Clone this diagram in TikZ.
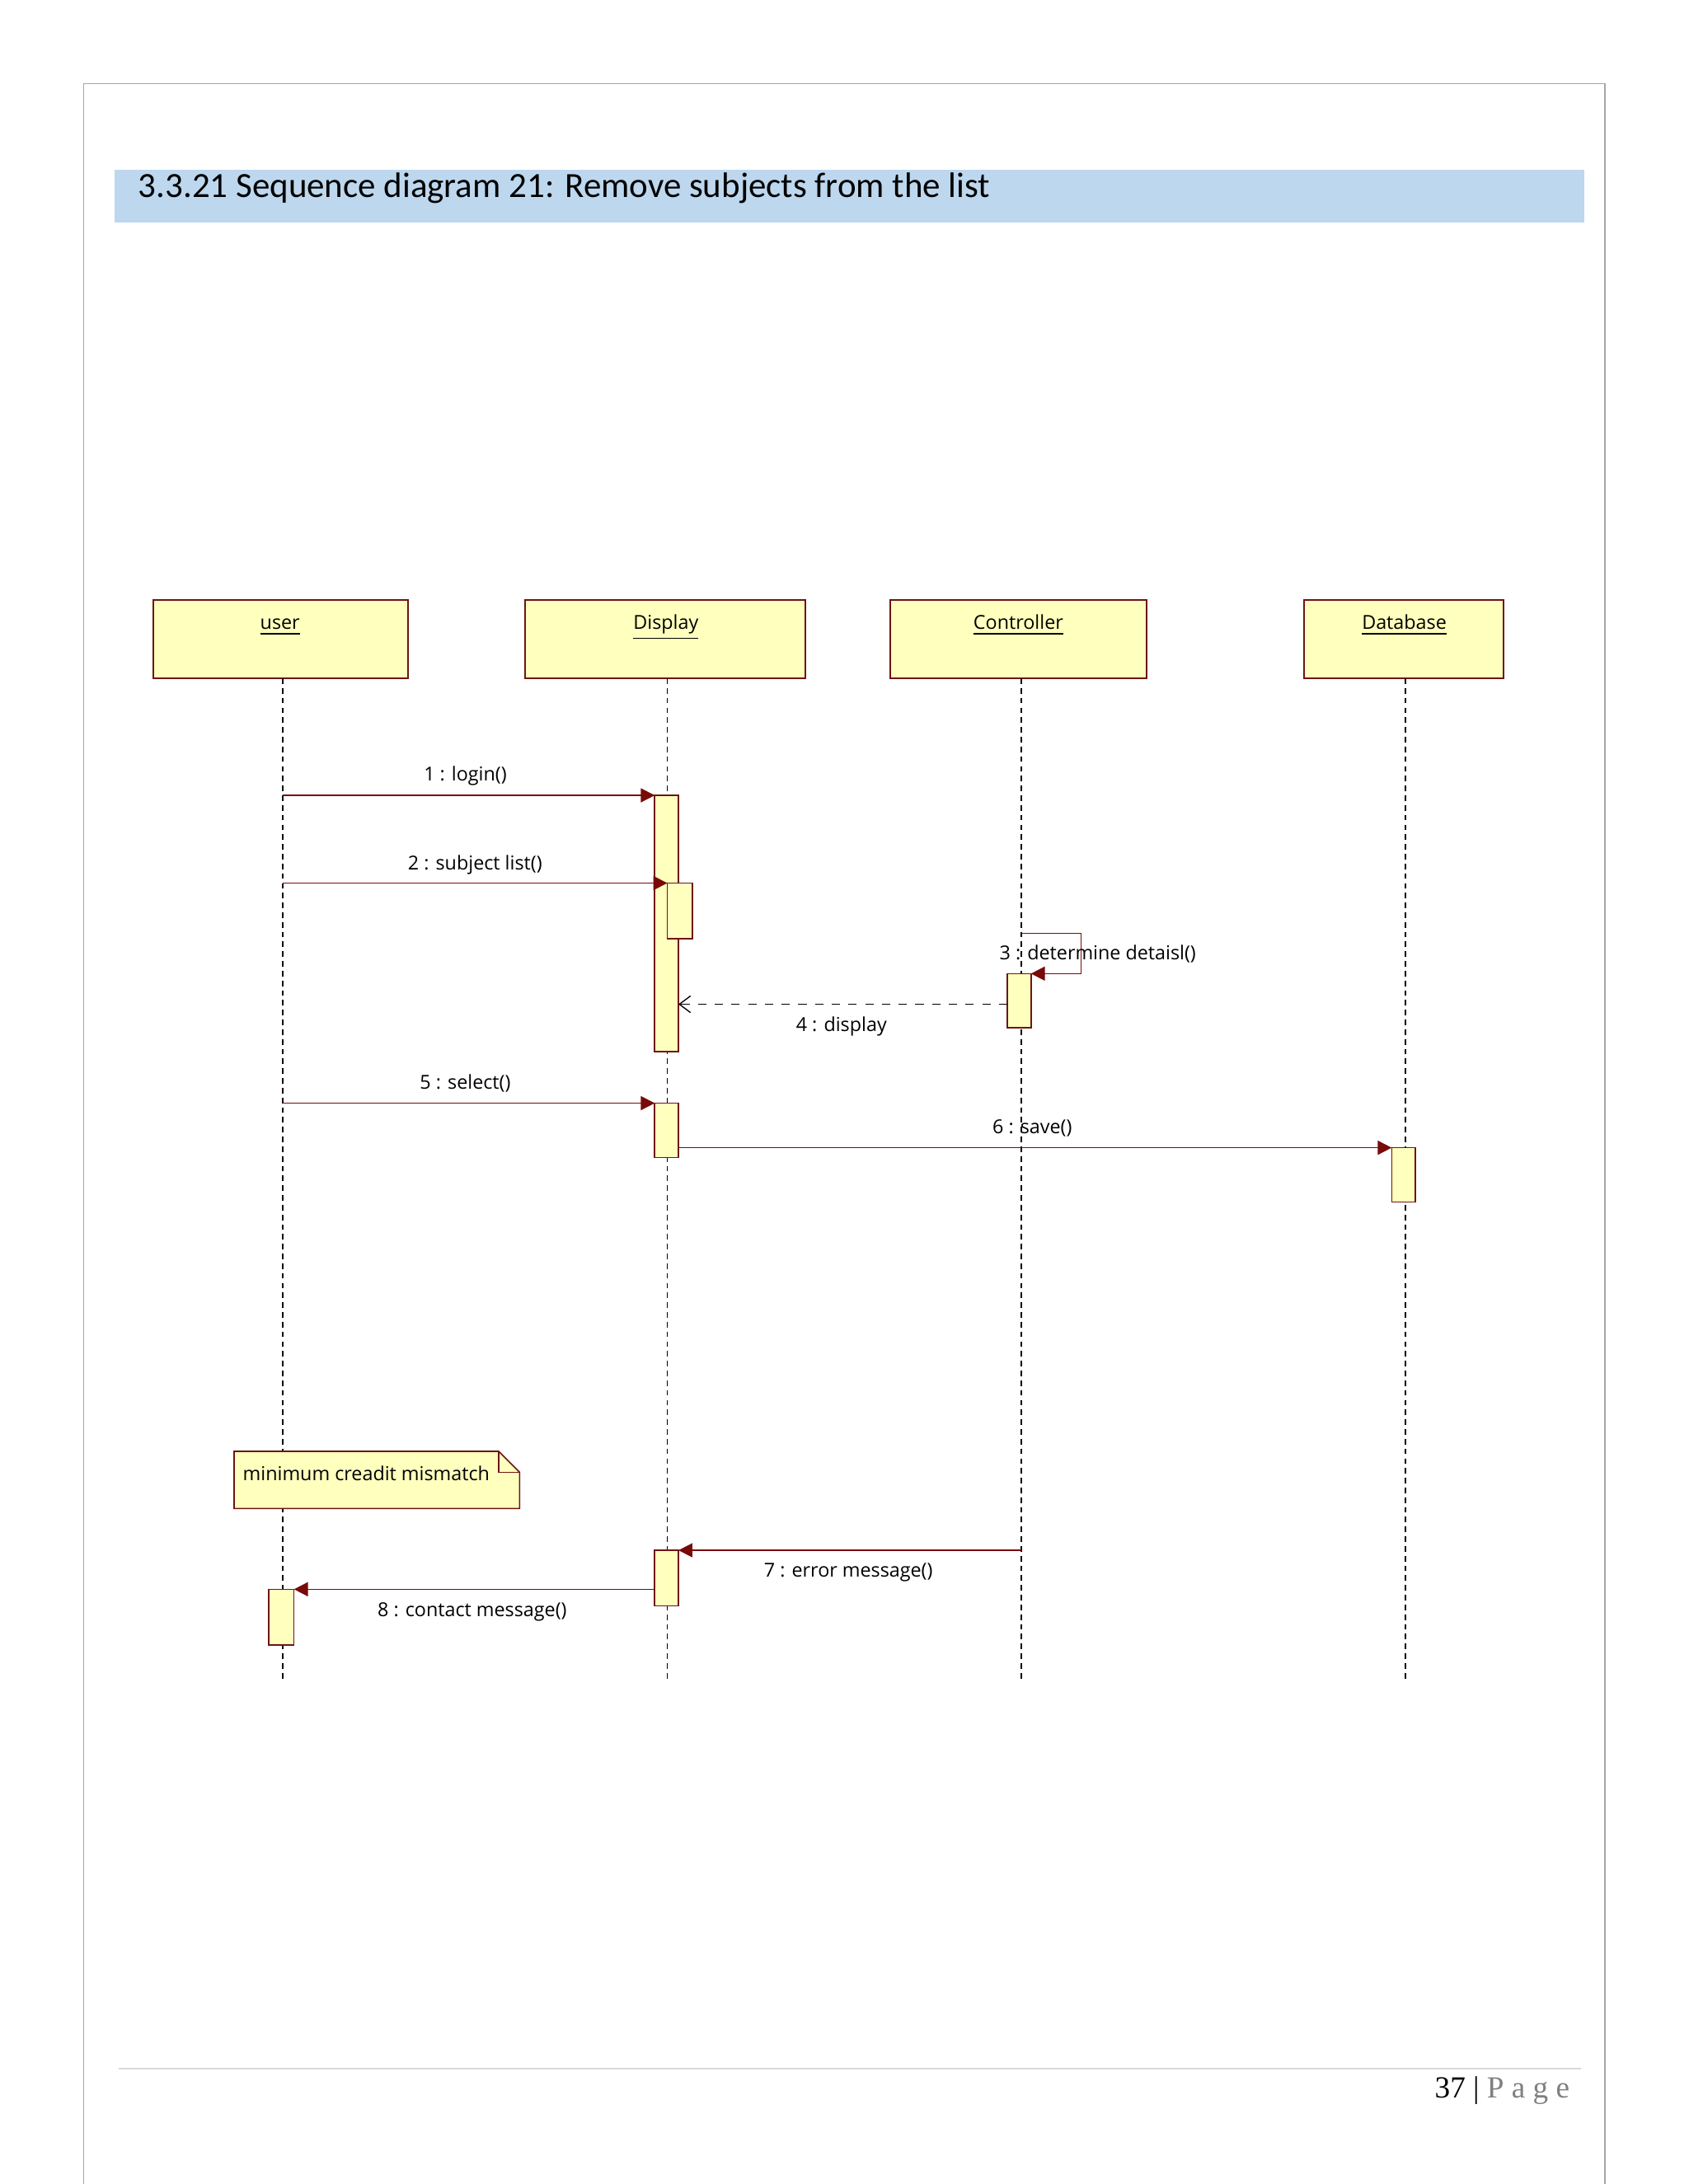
\documentclass[tikz,border=0pt]{standalone}
\usepackage{fontspec}
\setmainfont{Carlito}
\newfontfamily\lblfont{Open Sans}
\newfontfamily\pgfont{Liberation Serif}
\usetikzlibrary{arrows.meta}
\definecolor{brd}{RGB}{110,20,20}
\definecolor{lbox}{RGB}{255,255,190}
\definecolor{band}{RGB}{189,215,238}
\definecolor{msg}{RGB}{120,10,10}
\tikzset{
 x=0.5pt,y=-0.5pt,
 obj/.style={draw=brd,fill=lbox,line width=0.6pt},
 act/.style={draw=brd,fill=lbox,line width=0.5pt},
 life/.style={dash pattern=on 2pt off 1.5pt,line width=0.5pt},
 call/.style={draw=msg,line width=0.5pt,-{Triangle[length=5pt,width=5pt,fill=msg]}},
 ret/.style={draw=black,line width=0.4pt,dashed,-{Straight Barb[length=4pt,width=6pt]}},
 lbl/.style={font=\lblfont\fontsize{6.9}{8}\selectfont,inner sep=1pt},
 hdr/.style={font=\lblfont\fontsize{6.9}{8}\selectfont,anchor=base}
}
\begin{document}
\begin{tikzpicture}
\useasboundingbox (0,0) rectangle (1211.8,1568);
\fill[white] (0,0) rectangle (1211.8,1568);
\draw[gray!70,line width=0.5pt] (60,1568) -- (60,60) -- (1152,60) -- (1152,1568);
\fill[band] (82,122) rectangle (1137,160);
\node[anchor=west,font=\fontsize{12.7}{14}\selectfont,inner sep=0] (title) at (99,135) {3.3.21 Sequence diagram 21: Remove subjects from the list};
% objects
\node[obj,minimum width=91.5pt,minimum height=28pt] (user) at (201.5,459) {};
\node[obj,minimum width=100.5pt,minimum height=28pt] (disp) at (477.5,459) {};
\node[obj,minimum width=92pt,minimum height=28pt] (ctrl) at (731,459) {};
\node[obj,minimum width=71.5pt,minimum height=28pt] (db) at (1007.5,459) {};
\node[hdr] at (201,452) {\underline{user}};
\node[hdr] at (478,452) {\underline{Display}};
\node[hdr] at (731,452) {\underline{Controller}};
\node[hdr] at (1008,452) {\underline{Database}};
% lifelines
\coordinate (ue) at (203,1208); \coordinate (de) at (479,1208);
\coordinate (ce) at (733,1208); \coordinate (be) at (1009,1208);
\draw[life] (203,487) -- (ue);
\draw[life] (479,487) -- (de);
\draw[life] (733,487) -- (ce);
\draw[life] (1009,487) -- (be);
% activations
\draw[act] (470,571) rectangle (487,755);
\draw[act] (479,634) rectangle (497,674);
\draw[act] (723,699) rectangle (740,738);
\draw[act] (470,792) rectangle (487,831);
\draw[act] (999,824) rectangle (1016,863);
\draw[act] (470,1113) rectangle (487,1153);
\draw[act] (193,1141) rectangle (211,1181);
% messages
\coordinate (m1a) at (203,571); \coordinate (m1b) at (470,571);
\draw[call] (m1a) -- (m1b);
\node[lbl] at (334,557) {1 : login()};
\coordinate (m2a) at (203,634); \coordinate (m2b) at (479,634);
\draw[call] (m2a) -- (m2b);
\node[lbl] at (341,621) {2 : subject list()};
\coordinate (m3a) at (733,670); \coordinate (m3b) at (740,699);
\draw[call] (m3a) -- (776,670) -- (776,699) -- (m3b);
\node[lbl] at (788,685) {3 : determine detaisl()};
\coordinate (m4a) at (723,721); \coordinate (m4b) at (487,721);
\draw[ret] (m4a) -- (m4b);
\node[lbl] at (604,737) {4 : display};
\coordinate (m5a) at (203,792); \coordinate (m5b) at (470,792);
\draw[call] (m5a) -- (m5b);
\node[lbl] at (334,778) {5 : select()};
\coordinate (m6a) at (487,824); \coordinate (m6b) at (999,824);
\draw[call] (m6a) -- (m6b);
\node[lbl] at (741,810) {6 : save()};
\coordinate (m7a) at (733,1113); \coordinate (m7b) at (487,1113);
\draw[call] (m7a) -- (m7b);
\node[lbl] at (609,1129) {7 : error message()};
\coordinate (m8a) at (470,1141); \coordinate (m8b) at (211,1141);
\draw[call] (m8a) -- (m8b);
\node[lbl] at (339,1157) {8 : contact message()};
% note
\draw[draw=brd,fill=lbox,line width=0.5pt] (168,1042) -- (358,1042) -- (373,1057) -- (373,1083) -- (168,1083) -- cycle;
\draw[draw=brd,line width=0.5pt] (358,1042) -- (358,1057) -- (373,1057);
\node[lbl,anchor=west] (note) at (172,1058) {minimum creadit mismatch};
% footer
\draw[gray!30,line width=0.5pt] (85,1485) -- (1135,1485);
\node[anchor=east,inner sep=0,font=\pgfont\fontsize{11}{13}\selectfont] (pg) at (1127,1501) {37 | \textcolor{gray}{P a g e}};
\end{tikzpicture}
\end{document}
